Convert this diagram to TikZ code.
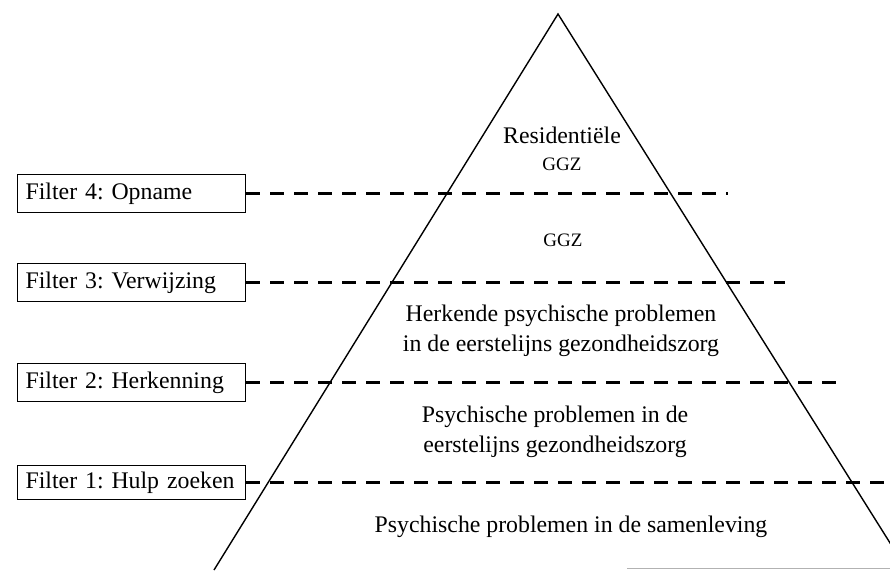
\documentclass[tikz,border=0pt]{standalone}
\usepackage{fontspec}
\setmainfont{Liberation Serif}
\frenchspacing
\begin{document}
\begin{tikzpicture}[x=1pt,y=-1pt,
  filterbox/.style={draw=black, line width=1.2pt, text width=212pt, align=left,
    inner xsep=8pt, inner ysep=0pt, minimum height=38pt, anchor=west,
    font=\fontsize{23.8}{28}\selectfont},
  filterline/.style={line width=2.8pt, dash pattern=on 14pt off 10pt},
  edge/.style={line width=1.4pt},
  lvl/.style={align=center, font=\fontsize{23.8}{29.5}\selectfont, inner sep=0pt},
  small/.style={align=center, font=\fontsize{19}{23}\selectfont, inner sep=0pt}]
\clip (0,0) rectangle (890,570);
\fill[white] (0,0) rectangle (890,570);
% triangle
\coordinate (apex) at (558,14);
\coordinate (bl) at (214,570);
\coordinate (br) at (907,570);
\draw[edge, line join=miter] (bl) -- (apex) -- (br);
\coordinate (g1) at (627,568);
\coordinate (g2) at (890,568);
\draw[gray!60, line width=1pt] (g1) -- (g2);
% filter boxes
\node[filterbox] (f4) at (17,193.5) {Filter 4: Opname};
\node[filterbox] (f3) at (17,282.5) {Filter 3: Verwijzing};
\node[filterbox] (f2) at (17,382.5) {Filter 2: Herkenning};
\node[filterbox, minimum height=34pt] (f1) at (17,482.5) {Filter 1: Hulp zoeken};
% dashed filter lines
\coordinate (e4) at (728,193.5);
\coordinate (e3) at (785,282.5);
\coordinate (e2) at (840,382.5);
\coordinate (e1) at (892,482.5);
\draw[filterline] (f4.east) -- (e4);
\draw[filterline] (f3.east) -- (e3);
\draw[filterline] (f2.east) -- (e2);
\draw[filterline] (f1.east) -- (e1);
% level labels
\node[lvl] (res) at (562,135) {Residenti\"ele};
\node[small] (ggz1) at (562,164) {GGZ};
\node[small] (ggz2) at (563,240) {GGZ};
\node[lvl] (herk) at (561,331) {Herkende psychische problemen\\in de eerstelijns gezondheidszorg};
\node[lvl] (psy) at (555,432) {Psychische problemen in de\\eerstelijns gezondheidszorg};
\node[lvl] (sam) at (571,527) {Psychische problemen in de samenleving};
\end{tikzpicture}
\end{document}
